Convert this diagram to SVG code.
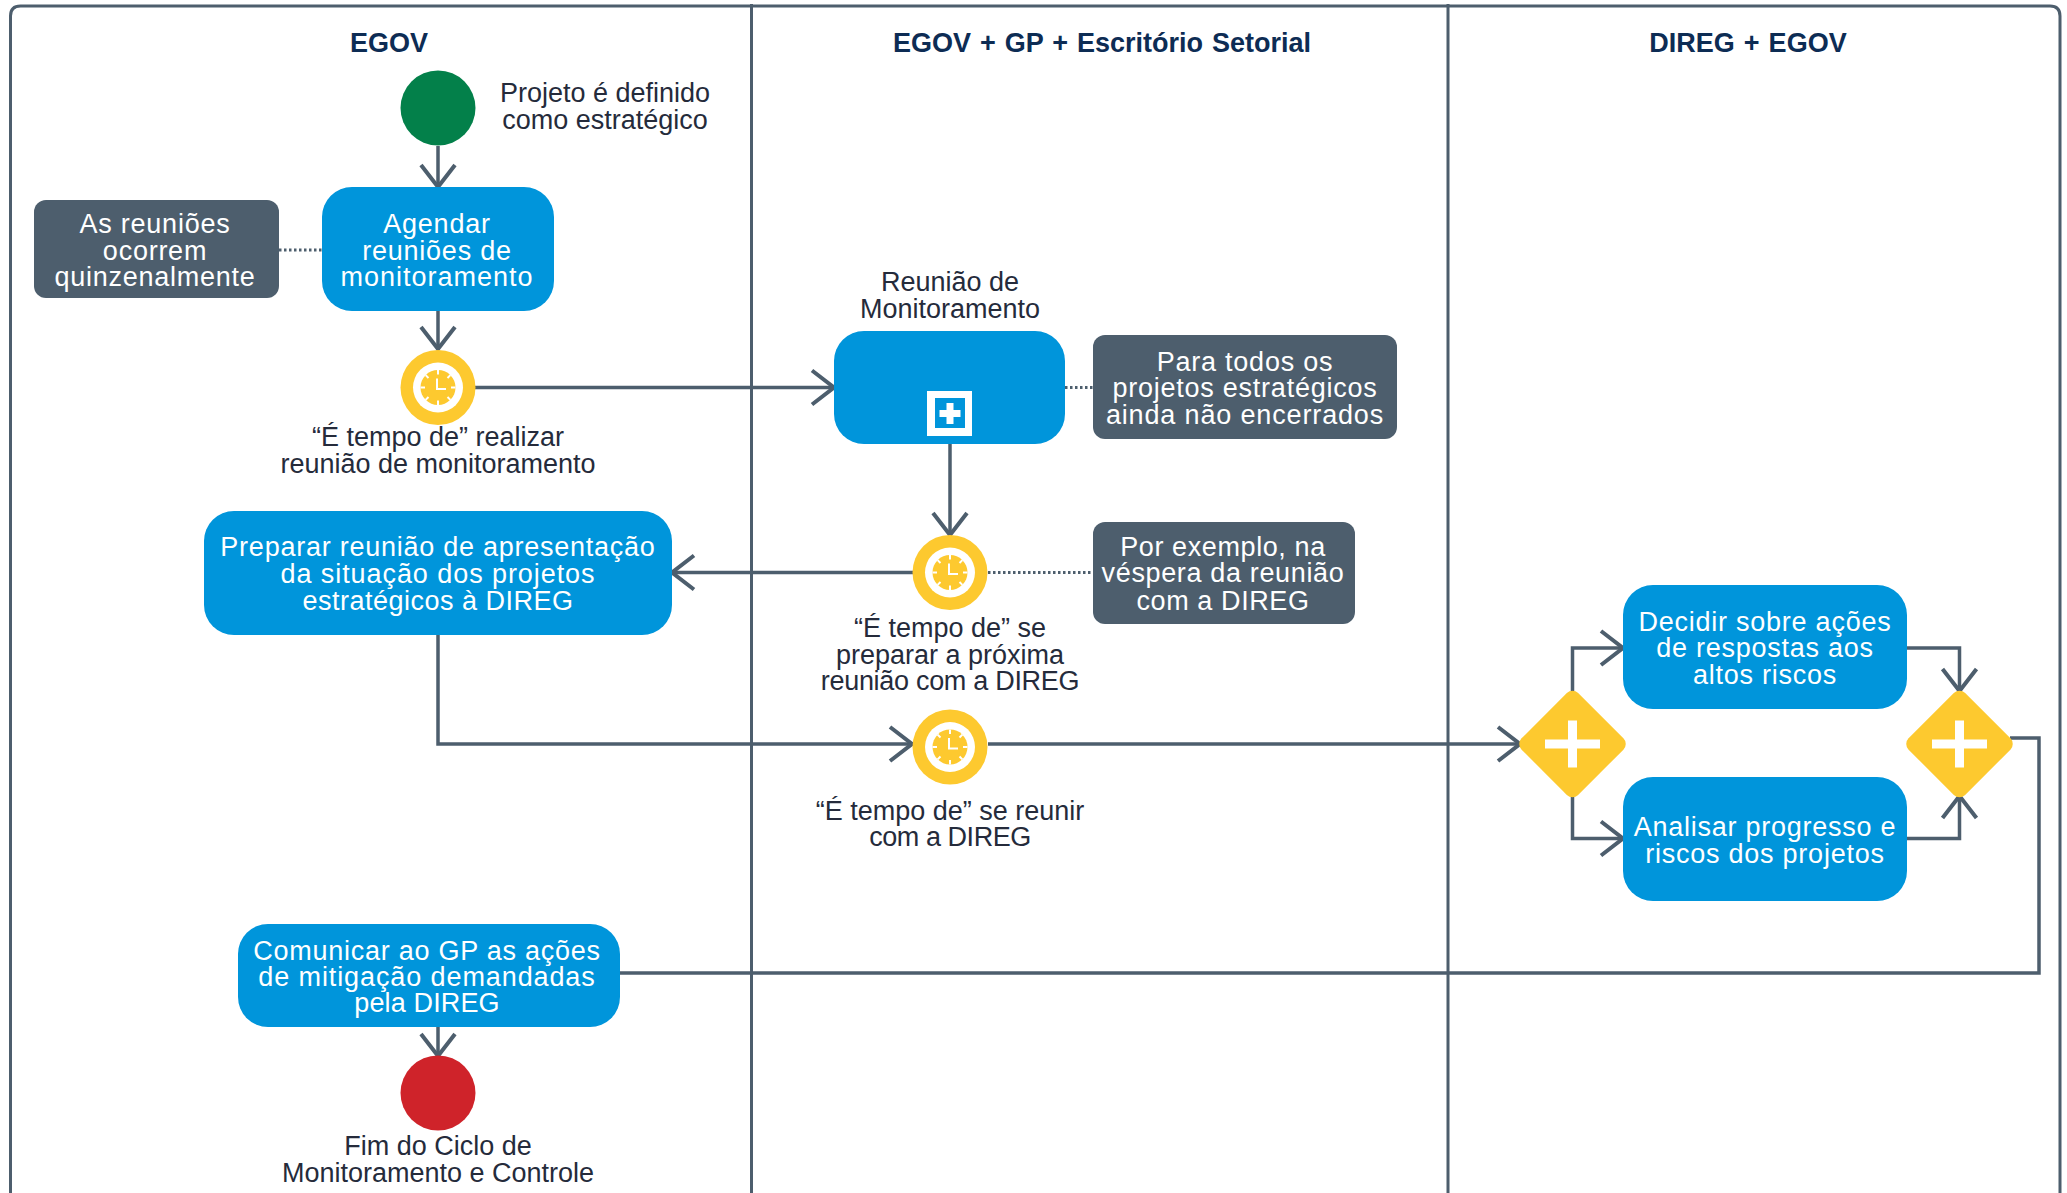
<svg xmlns="http://www.w3.org/2000/svg" width="2067" height="1193" viewBox="0 0 2067 1193">
<style>
text{font-family:"Liberation Sans",Arial,sans-serif;font-size:27px;text-anchor:middle}
.h{font-weight:bold;font-size:27px;fill:#0d2c54;word-spacing:1.5px}
.l{fill:#252b3b}
.w{fill:#fff;letter-spacing:.75px}
.n{letter-spacing:-.3px}
.task{fill:#0095db}
.note{fill:#4d5e6d}
.c{fill:none;stroke:#4d5e6d;stroke-width:3.5}
.d{fill:none;stroke:#4d5e6d;stroke-width:3;stroke-dasharray:2.5 2.5}
</style>
<defs>
<marker id="a" markerUnits="userSpaceOnUse" markerWidth="30" markerHeight="44" refX="27" refY="22" orient="auto" viewBox="0 0 30 44"><path d="M5 5L27 22L5 39" fill="none" stroke="#4d5e6d" stroke-width="4"/></marker>
<g id="clock"><circle r="37.5" fill="#fdc92f"/><circle r="25" fill="#fff"/><circle r="17.5" fill="#fdc92f"/><path d="M0 -17.5V-13M0 17.5V13M-17.5 0H-13M17.5 0H13M-12.4 -12.4L-9.5 -9.5M12.4 -12.4L9.5 -9.5M-12.4 12.4L-9.5 9.5M12.4 12.4L9.5 9.5" stroke="#fff" stroke-width="2"/><path d="M-1 -9V1.5H8" fill="none" stroke="#fff" stroke-width="2"/></g>
<g id="gate"><rect x="-40" y="-40" width="80" height="80" rx="8" fill="#fdc92f" transform="rotate(45)"/><rect x="-27.500" y="-4.500" width="55" height="9" fill="#fff"/><rect x="-4.500" y="-23.500" width="9" height="47" fill="#fff"/></g>
</defs>
<rect width="2067" height="1193" fill="#fff"/>
<g id="frame" fill="none" stroke="#4d5e6d" stroke-width="3">
<path d="M10.500 1193V16Q10.500 6 20.500 6H2050Q2060 6 2060 16V1193"/>
<path d="M751.500 4V1193M1448 4V1193"/>
</g>
<g id="connectors">
<path class="c" marker-end="url(#a)" d="M438 146V187"/>
<path class="c" marker-end="url(#a)" d="M438 311V349"/>
<path class="c" marker-end="url(#a)" d="M475 387.500H834"/>
<path class="c" marker-end="url(#a)" d="M950 443V535"/>
<path class="c" marker-end="url(#a)" d="M913 572.500H672"/>
<path class="c" marker-end="url(#a)" d="M438 634V744H912"/>
<path class="c" marker-end="url(#a)" d="M988 744H1520"/>
<path class="c" marker-end="url(#a)" d="M1572.500 691V648H1623"/>
<path class="c" marker-end="url(#a)" d="M1572.500 796V838.500H1623"/>
<path class="c" marker-end="url(#a)" d="M1907 648H1959.500V691"/>
<path class="c" marker-end="url(#a)" d="M1907 838.500H1959.500V796"/>
<path class="c" d="M2010 738H2039V973H619"/>
<path class="c" marker-end="url(#a)" d="M438 1026V1056"/>
<path class="d" d="M279 250H322"/>
<path class="d" d="M1065 387.500H1093"/>
<path class="d" d="M988 572.500H1093"/>
</g>
<g id="h1"><text class="h" x="389" y="52">EGOV</text></g>
<g id="h2"><text class="h" x="1102" y="52">EGOV + GP + Escritório Setorial</text></g>
<g id="h3"><text class="h" x="1748" y="52">DIREG + EGOV</text></g>
<g id="start"><circle cx="438" cy="108" r="37.500" fill="#03804a"/><text class="l" x="605" y="102">Projeto é definido</text><text class="l" x="605" y="129">como estratégico</text></g>
<g id="agendar"><rect class="task" x="322" y="187" width="232" height="124" rx="30"/><text class="w" x="437" y="233">Agendar</text><text class="w" x="437" y="260">reuniões de</text><text class="w" x="437" y="286" style="letter-spacing:1px">monitoramento</text></g>
<g id="note1"><rect class="note" x="34" y="200" width="245" height="98" rx="12"/><text class="w" x="155" y="233">As reuniões</text><text class="w" x="155" y="260">ocorrem</text><text class="w" x="155" y="286">quinzenalmente</text></g>
<g id="timer1"><use href="#clock" x="438" y="387.500"/><text class="l" x="438" y="446">“É tempo de” realizar</text><text class="l" x="438" y="473">reunião de monitoramento</text></g>
<g id="monit"><rect class="task" x="834" y="331" width="231" height="113" rx="30"/><rect x="927" y="391" width="45" height="45" fill="#fff"/><rect x="935" y="398" width="30" height="30" class="task"/><path d="M950 403V424M939.500 413.500H960.500" stroke="#fff" stroke-width="7" fill="none"/><text class="l" x="950" y="291">Reunião de</text><text class="l" x="950" y="318">Monitoramento</text></g>
<g id="note2"><rect class="note" x="1093" y="335" width="304" height="104" rx="12"/><text class="w" x="1245" y="371">Para todos os</text><text class="w" x="1245" y="397">projetos estratégicos</text><text class="w" x="1245" y="424" style="letter-spacing:.85px">ainda não encerrados</text></g>
<g id="timer2"><use href="#clock" x="950" y="572.500"/><text class="l" x="950" y="637">“É tempo de” se</text><text class="l" x="950" y="664">preparar a próxima</text><text class="l n" x="950" y="690">reunião com a DIREG</text></g>
<g id="note3"><rect class="note" x="1093" y="522" width="262" height="102" rx="12"/><text class="w" x="1223" y="556" style="letter-spacing:.6px">Por exemplo, na</text><text class="w" x="1223" y="582" style="letter-spacing:.65px">véspera da reunião</text><text class="w" x="1223" y="610" style="letter-spacing:.6px">com a DIREG</text></g>
<g id="preparar"><rect class="task" x="204" y="511" width="468" height="124" rx="30"/><text class="w" x="438" y="556">Preparar reunião de apresentação</text><text class="w" x="438" y="583" style="letter-spacing:.93px">da situação dos projetos</text><text class="w" x="438" y="610" style="letter-spacing:.5px">estratégicos à DIREG</text></g>
<g id="timer3"><use href="#clock" x="950" y="747"/><text class="l" x="950" y="820">“É tempo de” se reunir</text><text class="l n" x="950" y="846" style="letter-spacing:-.45px">com a DIREG</text></g>
<g id="gate1"><use href="#gate" x="1572.500" y="744"/></g>
<g id="gate2"><use href="#gate" x="1959.500" y="744"/></g>
<g id="decidir"><rect class="task" x="1623" y="585" width="284" height="124" rx="30"/><text class="w" x="1765" y="631">Decidir sobre ações</text><text class="w" x="1765" y="657">de respostas aos</text><text class="w" x="1765" y="684">altos riscos</text></g>
<g id="analisar"><rect class="task" x="1623" y="777" width="284" height="124" rx="30"/><text class="w" x="1765" y="836">Analisar progresso e</text><text class="w" x="1765" y="863">riscos dos projetos</text></g>
<g id="comunicar"><rect class="task" x="238" y="924" width="382" height="103" rx="30"/><text class="w" x="427" y="960">Comunicar ao GP as ações</text><text class="w" x="427" y="986" style="letter-spacing:.9px">de mitigação demandadas</text><text class="w" x="427" y="1012" style="letter-spacing:.15px">pela DIREG</text></g>
<g id="end"><circle cx="438" cy="1093" r="37.500" fill="#cf232a"/><text class="l" x="438" y="1155">Fim do Ciclo de</text><text class="l" x="438" y="1182">Monitoramento e Controle</text></g>
</svg>
